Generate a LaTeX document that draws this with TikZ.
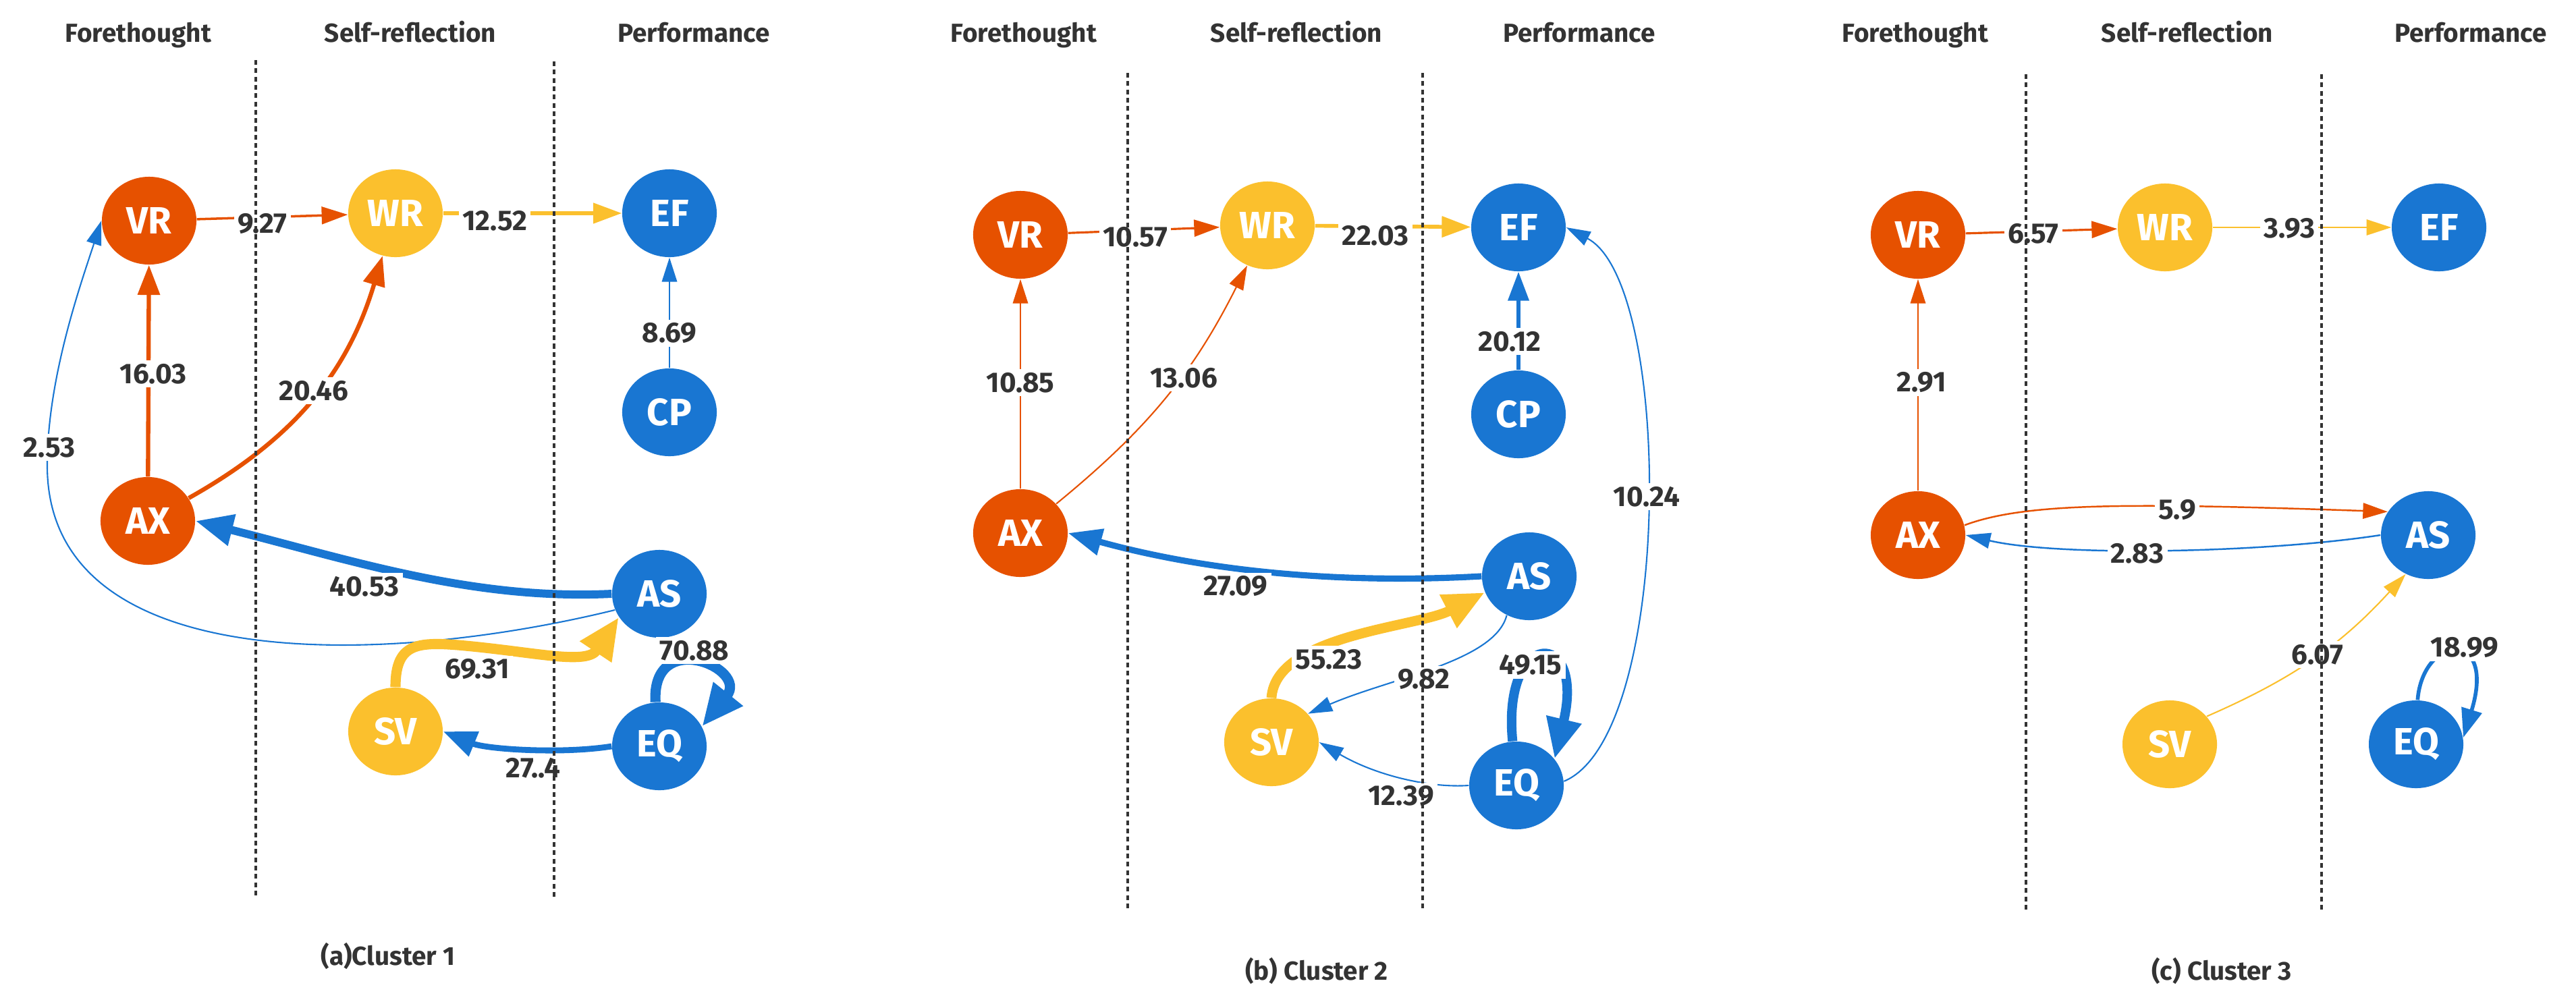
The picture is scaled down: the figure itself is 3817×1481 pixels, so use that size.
\documentclass[tikz,border=0pt]{standalone}
\usepackage{fontspec}
\setmainfont{Fira Sans}
\usetikzlibrary{arrows.meta,shapes.geometric}

\definecolor{nodeorange}{HTML}{E65100}
\definecolor{nodeyellow}{HTML}{FBC02D}
\definecolor{nodeblue}{HTML}{1976D2}
\definecolor{labelgray}{HTML}{333333}

\newcommand{\hdfont}{\fontsize{11}{13}\selectfont\bfseries}
\newcommand{\wtfont}{\fontsize{12}{14}\selectfont\bfseries}
\newcommand{\ndfont}{\fontsize{16}{18}\selectfont\bfseries}

\tikzset{
	nd/.style={ellipse, minimum width=1.4cm, minimum height=1.3cm, inner sep=0pt, text=white, font=\ndfont},
	fo/.style={nd, fill=nodeorange},
	fy/.style={nd, fill=nodeyellow},
	fb/.style={nd, fill=nodeblue},
	lnk/.style={-{Triangle[length=9pt 2,width=5pt 2.3]}, line width=#1},
	wt/.style={fill=white, text=labelgray, inner sep=1.5pt, font=\wtfont},
	hd/.style={anchor=base, text=labelgray, font=\hdfont},
	divline/.style={draw=labelgray, line width=1.35pt, dash pattern=on 2pt off 1.5pt}
}

\begin{document}
\begin{tikzpicture}[x=0.01cm,y=-0.01cm]
	\useasboundingbox (0,0) rectangle (3817,1481);

	\node[hd] (hF1) at (205,62) {Forethought};
	\node[hd] (hS1) at (608,62) {Self-reflection};
	\node[hd] (hP1) at (1028,62) {Performance};
	\node[hd] (hF2) at (1517,62) {Forethought};
	\node[hd] (hS2) at (1921,62) {Self-reflection};
	\node[hd] (hP2) at (2340,62) {Performance};
	\node[hd] (hF3) at (2838,62) {Forethought};
	\node[hd] (hS3) at (3241,62) {Self-reflection};
	\node[hd] (hP3) at (3661,62) {Performance};

	\node[hd] (cap1) at (575,1430) {(a)Cluster 1};
	\node[hd] (cap2) at (1951,1452) {(b) Cluster 2};
	\node[hd] (cap3) at (3292,1452) {(c) Cluster 3};




	\node[fo] (VR1) at (221,327) {VR};
	\node[fy] (WR1) at (586,316) {WR};
	\node[fb] (EF1) at (992,316) {EF};
	\node[fb] (CP1) at (992,611) {CP};
	\node[fo] (AX1) at (219,772) {AX};
	\node[fb] (AS1) at (977,880) {AS};
	\node[fy] (SV1) at (586,1084) {SV};
	\node[fb] (EQ1) at (977,1106) {EQ};

	\coordinate (K1) at (70,690);

	\draw[lnk=1pt,nodeorange] (VR1) -- (WR1);
	\draw[lnk=1.5pt,nodeyellow] (WR1) -- (EF1);
	\draw[lnk=0.6pt,nodeblue] (CP1) -- (EF1);
	\draw[lnk=1.8pt,nodeorange] (AX1) -- (VR1);
	\draw[lnk=1.8pt,nodeorange] (AX1) to[bend right=22] (WR1);
	\draw[lnk=0.6pt,nodeblue] (AS1.200) .. controls (560,990) and (70,1000) .. (K1) .. controls (70,560) and (120,420) .. (VR1.west);
	\draw[lnk=3.4pt,nodeblue] (AS1.west) .. controls (700,890) and (520,830) .. (AX1.east);
	\draw[lnk=4.3pt,nodeyellow] (SV1.north) .. controls (586,950) and (620,950) .. (700,958) .. controls (800,968) and (870,985) .. (AS1.210);
	\draw[lnk=2.5pt,nodeblue] (EQ1.west) .. controls (830,1118) and (720,1110) .. (SV1.east);
	\draw[lnk=4.3pt,nodeblue] (EQ1.95) .. controls (965,930) and (1110,990) .. (EQ1.25);

	\node[wt] (w1a) at (389,332) {9.27};
	\node[wt] (w1b) at (733,327) {12.52};
	\node[wt] (w1c) at (992,494) {8.69};
	\node[wt] (w1d) at (227,554) {16.03};
	\node[wt] (w1e) at (465,579) {20.46};
	\node[wt] (w1f) at (73,663) {2.53};
	\node[wt] (w1g) at (540,869) {40.53};
	\node[wt] (w1h) at (707,992) {69.31};
	\node[wt] (w1i) at (790,1138) {27..4};
	\node[wt] (w1j) at (1029,964) {70.88};




	\node[fo] (VR2) at (1512,348) {VR};
	\node[fy] (WR2) at (1878,334) {WR};
	\node[fb] (EF2) at (2250,337) {EF};
	\node[fb] (CP2) at (2250,614) {CP};
	\node[fo] (AX2) at (1512,790) {AX};
	\node[fb] (AS2) at (2266,854) {AS};
	\node[fy] (SV2) at (1884,1100) {SV};
	\node[fb] (EQ2) at (2247,1164) {EQ};

	\draw[lnk=0.9pt,nodeorange] (VR2) -- (WR2);
	\draw[lnk=1.6pt,nodeyellow] (WR2) -- (EF2);
	\draw[lnk=1.6pt,nodeblue] (CP2) -- (EF2);
	\draw[lnk=0.6pt,nodeorange] (AX2) -- (VR2);
	\draw[lnk=0.6pt,nodeorange] (AX2) to[bend right=12] (WR2);
	\draw[lnk=0.6pt,nodeblue] (EQ2.5) .. controls (2480,1090) and (2480,420) .. (EF2.east);
	\draw[lnk=2.6pt,nodeblue] (AS2.west) .. controls (2000,865) and (1800,850) .. (AX2.east);
	\draw[lnk=4.2pt,nodeyellow] (SV2.north) .. controls (1890,940) and (2100,930) .. (AS2.200);
	\draw[lnk=0.6pt,nodeblue] (AS2.240) .. controls (2215,980) and (2060,1005) .. (SV2.38);
	\draw[lnk=0.6pt,nodeblue] (EQ2.west) .. controls (2120,1168) and (2040,1150) .. (SV2.east);
	\draw[lnk=4pt,nodeblue] (EQ2.95) .. controls (2225,930) and (2350,930) .. (EQ2.35);

	\node[wt] (w2a) at (1682,351) {10.57};
	\node[wt] (w2b) at (2038,349) {22.03};
	\node[wt] (w2c) at (2237,506) {20.12};
	\node[wt] (w2d) at (1512,567) {10.85};
	\node[wt] (w2e) at (1754,560) {13.06};
	\node[wt] (w2f) at (2440,736) {10.24};
	\node[wt] (w2g) at (1831,869) {27.09};
	\node[wt] (w2h) at (1969,977) {55.23};
	\node[wt] (w2i) at (2110,1007) {9.82};
	\node[wt] (w2j) at (2076,1180) {12.39};
	\node[wt] (w2k) at (2268,985) {49.15};




	\node[fo] (VR3) at (2842,348) {VR};
	\node[fy] (WR3) at (3208,337) {WR};
	\node[fb] (EF3) at (3614,337) {EF};
	\node[fo] (AX3) at (2842,793) {AX};
	\node[fb] (AS3) at (3598,793) {AS};
	\node[fy] (SV3) at (3215,1103) {SV};
	\node[fb] (EQ3) at (3580,1103) {EQ};

	\draw[lnk=0.9pt,nodeorange] (VR3) -- (WR3);
	\draw[lnk=0.7pt,nodeyellow] (WR3) -- (EF3);
	\draw[lnk=0.6pt,nodeorange] (AX3) -- (VR3);
	\draw[lnk=0.7pt,nodeorange] (AX3.12) .. controls (3000,745) and (3150,745) .. (AS3.150);
	\draw[lnk=0.7pt,nodeblue] (AS3.west) .. controls (3350,820) and (3050,825) .. (AX3.east);
	\draw[lnk=0.6pt,nodeyellow] (SV3.37) to[bend right=12] (AS3.240);
	\draw[lnk=1.6pt,nodeblue] (EQ3.88) .. controls (3590,940) and (3700,930) .. (EQ3.8);

	\node[wt] (w3a) at (3013,346) {6.57};
	\node[wt] (w3b) at (3392,339) {3.93};
	\node[wt] (w3c) at (2847,567) {2.91};
	\node[wt] (w3d) at (3226,756) {5.9};
	\node[wt] (w3e) at (3167,820) {2.83};
	\node[wt] (w3f) at (3434,970) {6.07};
	\node[wt] (w3g) at (3652,960) {18.99};




	\draw[divline] (379,89) -- (379,1330);
	\draw[divline] (821,91) -- (821,1330);
	\draw[divline] (1671,108) -- (1671,1348);
	\draw[divline] (2108,108) -- (2108,1348);
	\draw[divline] (3002,110) -- (3002,1350);
	\draw[divline] (3440,110) -- (3440,1350);

\end{tikzpicture}
\end{document}
